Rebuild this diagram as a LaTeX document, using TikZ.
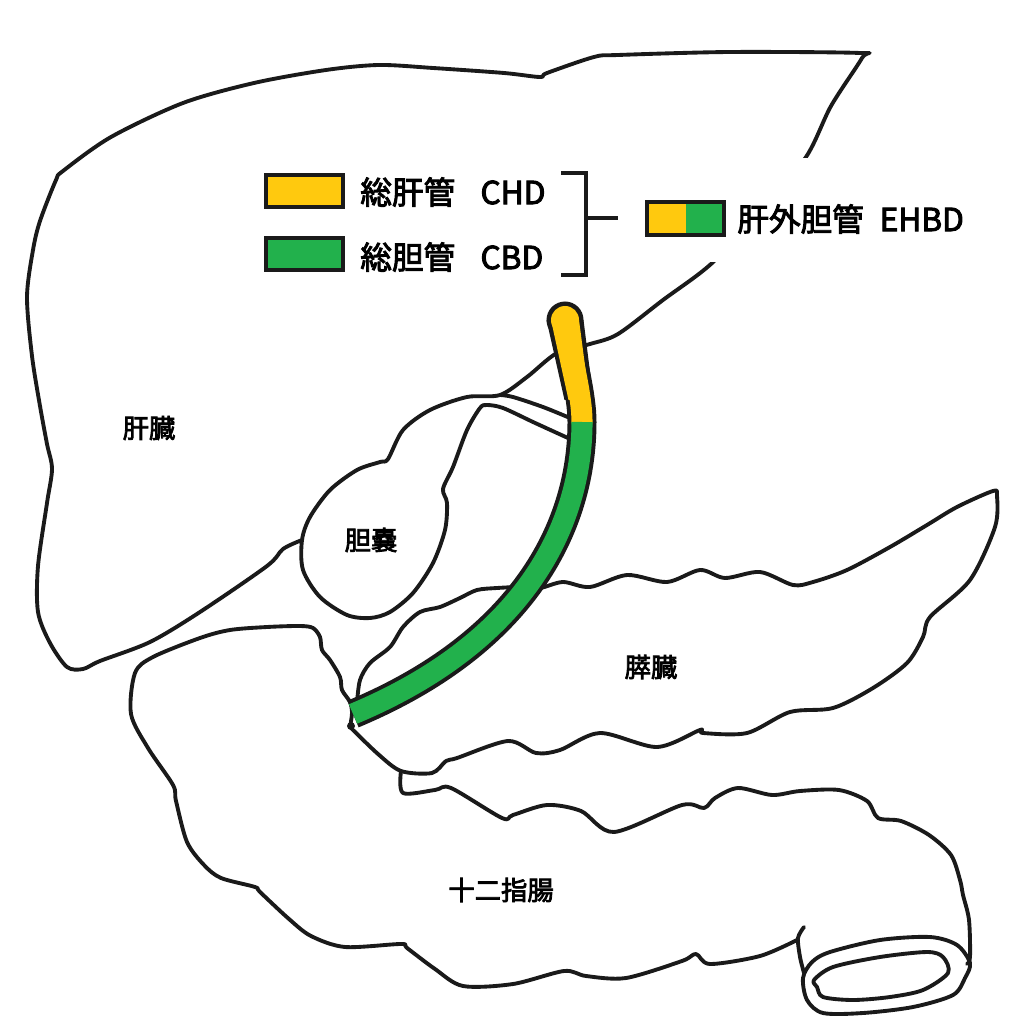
\documentclass[tikz,border=0pt]{standalone}
\usepackage{fontspec}
\setmainfont{Noto Sans CJK JP}
\newfontfamily\inkfont[FakeBold=3]{Noto Sans CJK JP}
\usepackage{tikz}
\definecolor{DuctYellow}{HTML}{FFC90E}
\definecolor{DuctGreen}{HTML}{22B14C}
\definecolor{InkBlack}{HTML}{1A1A1A}

\begin{document}
\begin{tikzpicture}[x=0.02cm, y=-0.02cm,
    organ/.style={InkBlack, line width=2.2pt, line join=round, line cap=round},
    legendbox/.style={draw=InkBlack, line width=2.3pt, minimum width=44pt,
      minimum height=18.5pt, inner sep=0pt},
    legendtext/.style={font=\inkfont\fontsize{18}{20}\selectfont, inner sep=0pt,
      anchor=west},
    organname/.style={font=\inkfont\fontsize{15}{17}\selectfont, inner sep=0pt}]
    \useasboundingbox (0,0) rectangle (1026,1026);
    % Liver and gallbladder
    \draw[organ] plot[smooth, tension=0.5] coordinates {(302,540) (283,549)
      (267,566) (200,612) (150,642) (100,661) (83,669) (67,667) (50,643)
      (38,612) (38,566) (47,503) (52,469) (47,444) (40,406) (32,356) (27,297)
      (33,250) (40,221) (56,180) (63,171) (111,137) (183,103) (254,83)
      (326,70) (379,65) (433,68) (504,73) (540,77) (547,73) (594,57) (618,55)
      (730,52) (860,53) (862,58) (831,106) (806,157) (760,212) (711,264)
      (663,300) (618,334) (590,344) (557,353) (527,377) (500,395) (467,397)
      (430,410) (403,430) (388,459) (380,462) (357,470) (330,490) (310,517)
      (302,540) (303,570) (320,597) (347,615) (370,618) (390,612) (413,593)
      (433,563) (445,530) (447,503) (443,489) (453,467) (467,430) (480,408)
      (487,405) (503,408) (533,422) (557,433) (568,438)};
    \draw[organ] plot[smooth, tension=0.5] coordinates {(500,395) (513,397)
      (543,407) (570,418)};
    % Pancreas
    \draw[organ] plot[smooth, tension=0.5] coordinates {(357,703) (360,680)
      (370,663) (390,647) (403,627) (420,612) (440,607) (460,598) (477,590)
      (497,588) (520,587) (540,588) (563,582) (590,587) (627,575) (667,582)
      (700,570) (725,578) (760,572) (793,585) (813,582) (847,570) (890,547)
      (927,525) (957,507) (993,491) (997,496) (995,527) (970,580) (930,617)
      (923,637) (907,663) (873,688) (833,708) (790,712) (747,733) (703,733)
      (700,730) (657,747) (600,733) (560,750) (536,753) (508,741) (457,758)
      (446,761) (432,773) (401,771) (378,754) (351,728)};
    % Duodenum
    \draw[organ] plot[smooth, tension=0.5] coordinates {(350,727) (352,713)
      (350,702) (342,690) (340,677) (330,660) (322,650) (320,637) (313,628)
      (300,626) (267,627) (230,630) (200,638) (153,657) (135,673) (131,714)
      (148,748) (173,785) (176,801) (187,842) (204,865) (221,878) (255,887)
      (260,892) (289,919) (311,936) (345,947) (401,944) (407,948) (435,969)
      (463,986) (513,984) (564,971) (586,976) (626,978) (682,961) (696,954)
      (710,964) (760,956) (797,940)};
    \draw[organ] plot[smooth, tension=0.5] coordinates {(804,927) (798,938)
      (800,957) (804,973)};
    \draw[organ] plot[smooth, tension=0.5] coordinates {(401,771) (403,793)
      (435,790) (451,788) (502,818) (513,815) (547,805) (581,811) (614,832)
      (682,805) (704,808) (715,798) (738,788) (772,795) (800,791) (839,790)
      (867,801) (878,818) (901,821) (929,835) (951,855) (960,880) (963,895)
      (969,920) (970,957) (967,964)};
    \draw[organ] plot[smooth cycle, tension=0.5] coordinates {(803,978)
      (812,962) (830,952) (880,940) (930,937) (957,945) (970,963) (965,978)
      (953,995) (913,1007) (863,1013) (823,1013) (807,1000)};
    \draw[organ] plot[smooth cycle, tension=0.5] coordinates {(814,980)
      (833,967) (880,957) (927,952) (943,957) (948,973) (923,990) (890,997)
      (853,1000) (823,997) (817,987)};
    \fill[InkBlack] (351,726) circle (4);
    % Organ names
    \node[organname] (liver) at (149,428) {肝臓};
    \node[organname] (gallbladder) at (371,540) {胆嚢};
    \node[organname] (pancreas) at (651,667) {膵臓};
    \node[organname] (duodenum) at (501,890) {十二指腸};
    % Bile duct
    \draw[InkBlack, line width=16.5pt] (566,322) .. controls (572,360) and
    (582,395) .. (582,422) .. controls (582,520) and (530,640) .. (353,714);
    \fill[InkBlack] (565,320) circle (18.5);
    \fill[InkBlack] (546.5,320) -- (583.5,320) -- (593.5,400) -- (564.5,400)
    -- cycle;
    \draw[DuctYellow, line width=12pt, line cap=round] (566,322) .. controls
    (572,360) and (582,395) .. (582,422);
    \fill[DuctYellow] (565,320) circle (14);
    \fill[DuctYellow] (551,320) -- (579,320) -- (589.5,400) -- (568.5,400)
    -- cycle;
    \draw[DuctGreen, line width=12pt] (582,422) .. controls (582,520) and
    (530,640) .. (353,714);
    % Legend
    \fill[white] (250,158) rectangle (1000,262);
    \node[legendbox, fill=DuctYellow] (chdbox) at (304.5,191) {};
    \node[legendbox, fill=DuctGreen] (cbdbox) at (304.5,254) {};
    \node[legendtext] (chdtext) at (360,192) {総肝管\hspace{0.8em}CHD};
    \node[legendtext] (cbdtext) at (360,257) {総胆管\hspace{0.8em}CBD};
    \draw[InkBlack, line width=1.8pt] (561,173) -- (586,173) -- (586,275)
    -- (561,275);
    \draw[InkBlack, line width=1.8pt] (586,218) -- (618,218);
    \node[legendbox, fill=DuctYellow, path picture={\fill[DuctGreen]
      (path picture bounding box.north) rectangle
      (path picture bounding box.south east);}] (ehbdbox) at (685.5,218.5) {};
    \node[legendtext] (ehbdtext) at (737,219) {肝外胆管\hspace{0.5em}EHBD};
\end{tikzpicture}
\end{document}
